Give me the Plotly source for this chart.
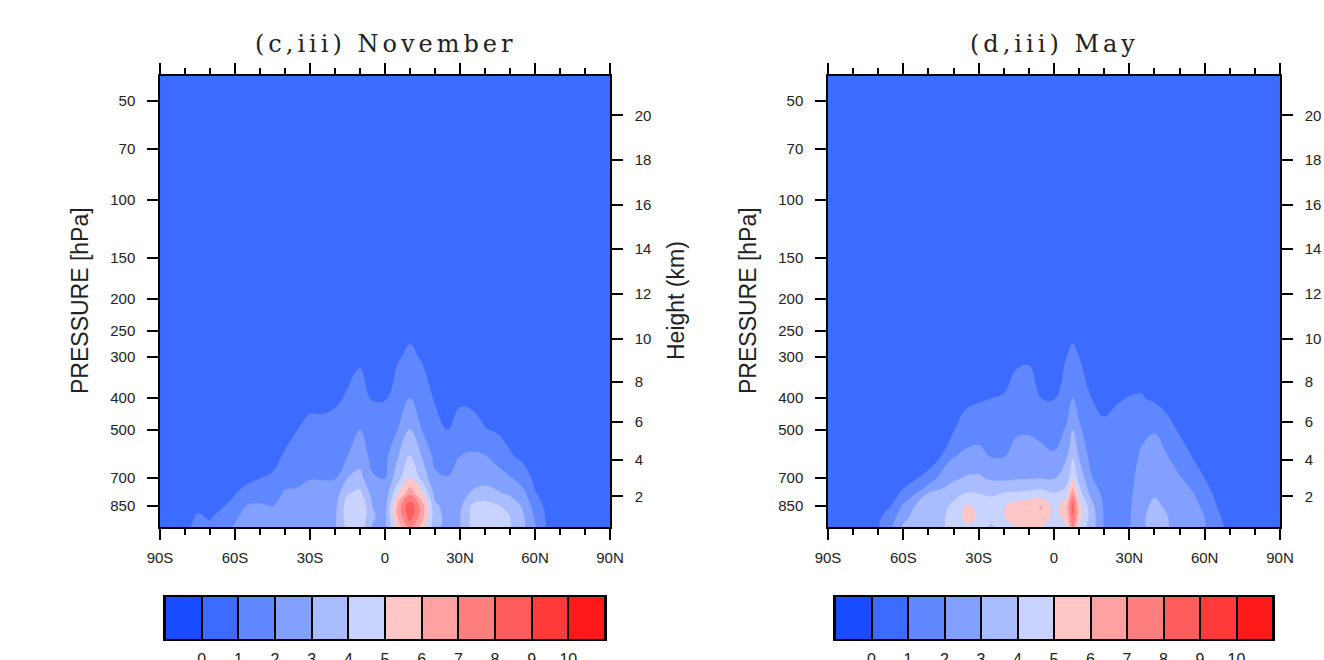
import math
import plotly.graph_objects as go

W, H = 1324, 660

# ---------------- data ----------------
# pressure levels (hPa) of the profiles below
plev = [1000, 925, 850, 775, 700, 600, 500, 400, 300, 250, 200, 100, 40]

lat_nov = [-90, -85, -80, -75, -70, -65, -60, -55, -50, -45, -40, -35, -30, -25, -20, -15, -10, -5,
           0, 5, 10, 15, 20, 25, 30, 35, 40, 45, 50, 55, 60, 65, 70, 75, 80, 85, 90]

# one vertical profile per latitude (values at plev, bottom to top)
nov_profiles = [
    [0.5, 0.5, 0.5, 0.5, 0.5, 0.5, 0.5, 0.5, 0.5, 0.5, 0.5, 0.5, 0.5],
    [0.5, 0.5, 0.5, 0.5, 0.5, 0.5, 0.5, 0.5, 0.5, 0.5, 0.5, 0.5, 0.5],
    [0.8, 0.7, 0.6, 0.5, 0.5, 0.5, 0.5, 0.5, 0.5, 0.5, 0.5, 0.5, 0.5],
    [1.3, 1.1, 0.85, 0.6, 0.5, 0.5, 0.5, 0.5, 0.5, 0.5, 0.5, 0.5, 0.5],
    [1.15, 0.95, 0.75, 0.6, 0.5, 0.5, 0.5, 0.5, 0.5, 0.5, 0.5, 0.5, 0.5],
    [1.6, 1.3, 0.95, 0.75, 0.6, 0.5, 0.5, 0.5, 0.5, 0.5, 0.5, 0.5, 0.5],
    [2.2, 1.85, 1.25, 0.95, 0.7, 0.55, 0.5, 0.5, 0.5, 0.5, 0.5, 0.5, 0.5],
    [2.6, 2.45, 2.05, 1.3, 0.8, 0.6, 0.5, 0.5, 0.5, 0.5, 0.5, 0.5, 0.5],
    [2.7, 2.5, 2.1, 1.6, 1.0, 0.7, 0.5, 0.5, 0.5, 0.5, 0.5, 0.5, 0.5],
    [2.6, 2.4, 2.0, 1.55, 1.1, 0.75, 0.55, 0.5, 0.5, 0.5, 0.5, 0.5, 0.5],
    [2.7, 2.5, 2.3, 2.1, 1.6, 1.1, 0.7, 0.5, 0.5, 0.5, 0.5, 0.5, 0.5],
    [2.8, 2.6, 2.45, 2.15, 1.75, 1.45, 1.0, 0.6, 0.5, 0.5, 0.5, 0.5, 0.5],
    [2.9, 2.75, 2.6, 2.35, 1.95, 1.6, 1.2, 0.8, 0.5, 0.5, 0.5, 0.5, 0.5],
    [2.9, 2.8, 2.6, 2.3, 1.95, 1.6, 1.2, 0.8, 0.5, 0.5, 0.5, 0.5, 0.5],
    [2.95, 2.85, 2.75, 2.4, 1.95, 1.65, 1.35, 0.85, 0.55, 0.5, 0.5, 0.5, 0.5],
    [4.2, 4.5, 4.5, 3.9, 3.0, 2.0, 1.6, 1.1, 0.7, 0.5, 0.5, 0.5, 0.5],
    [4.5, 4.8, 5.05, 4.2, 3.3, 2.55, 2.0, 1.4, 0.85, 0.6, 0.5, 0.5, 0.5],
    [2.9, 3.1, 3.0, 2.6, 2.1, 1.7, 1.35, 0.95, 0.6, 0.5, 0.5, 0.5, 0.5],
    [2.8, 2.7, 2.6, 2.3, 2.0, 1.7, 1.35, 0.95, 0.6, 0.5, 0.5, 0.5, 0.5],
    [5.2, 6.0, 6.2, 4.8, 3.6, 2.9, 2.0, 1.5, 0.9, 0.6, 0.5, 0.5, 0.5],
    [6.8, 8.4, 8.8, 6.6, 5.0, 4.15, 3.1, 2.0, 1.2, 0.8, 0.45, 0.5, 0.5],
    [5.4, 6.2, 6.4, 5.0, 3.7, 2.9, 1.95, 1.5, 0.9, 0.6, 0.5, 0.5, 0.5],
    [3.3, 3.4, 3.2, 2.7, 2.2, 1.7, 1.4, 0.9, 0.55, 0.5, 0.5, 0.5, 0.5],
    [2.6, 2.7, 2.6, 2.35, 2.05, 1.5, 1.0, 0.7, 0.5, 0.5, 0.5, 0.5, 0.5],
    [3.0, 2.95, 2.8, 2.6, 2.4, 2.0, 1.4, 0.85, 0.5, 0.5, 0.5, 0.5, 0.5],
    [4.3, 4.3, 4.2, 3.1, 2.6, 2.1, 1.5, 0.7, 0.5, 0.5, 0.5, 0.5, 0.5],
    [4.6, 5.05, 4.4, 3.3, 2.7, 2.05, 1.05, 0.6, 0.5, 0.5, 0.5, 0.5, 0.5],
    [4.3, 4.4, 4.1, 3.1, 2.5, 1.6, 0.9, 0.6, 0.5, 0.5, 0.5, 0.5, 0.5],
    [4.0, 4.05, 3.6, 2.8, 2.1, 1.1, 0.7, 0.5, 0.5, 0.5, 0.5, 0.5, 0.5],
    [3.3, 3.2, 2.9, 2.3, 1.5, 0.8, 0.6, 0.5, 0.5, 0.5, 0.5, 0.5, 0.5],
    [2.2, 1.9, 1.55, 1.05, 0.8, 0.6, 0.5, 0.5, 0.5, 0.5, 0.5, 0.5, 0.5],
    [0.9, 0.8, 0.7, 0.6, 0.5, 0.5, 0.5, 0.5, 0.5, 0.5, 0.5, 0.5, 0.5],
    [0.5, 0.5, 0.5, 0.5, 0.5, 0.5, 0.5, 0.5, 0.5, 0.5, 0.5, 0.5, 0.5],
    [0.5, 0.5, 0.5, 0.5, 0.5, 0.5, 0.5, 0.5, 0.5, 0.5, 0.5, 0.5, 0.5],
    [0.5, 0.5, 0.5, 0.5, 0.5, 0.5, 0.5, 0.5, 0.5, 0.5, 0.5, 0.5, 0.5],
    [0.5, 0.5, 0.5, 0.5, 0.5, 0.5, 0.5, 0.5, 0.5, 0.5, 0.5, 0.5, 0.5],
    [0.5, 0.5, 0.5, 0.5, 0.5, 0.5, 0.5, 0.5, 0.5, 0.5, 0.5, 0.5, 0.5],
]

lat_may = [-90, -85, -80, -75, -70, -65, -60, -55, -50, -45, -40, -35, -30, -25, -20, -15, -10, -5,
           0, 5, 7.5, 10, 15, 20, 25, 30, 35, 40, 45, 50, 55, 60, 65, 70, 75, 80, 85, 90]

may_profiles = [
    [0.5, 0.5, 0.5, 0.5, 0.5, 0.5, 0.5, 0.5, 0.5, 0.5, 0.5, 0.5, 0.5],
    [0.5, 0.5, 0.5, 0.5, 0.5, 0.5, 0.5, 0.5, 0.5, 0.5, 0.5, 0.5, 0.5],
    [0.5, 0.5, 0.5, 0.5, 0.5, 0.5, 0.5, 0.5, 0.5, 0.5, 0.5, 0.5, 0.5],
    [0.5, 0.5, 0.5, 0.5, 0.5, 0.5, 0.5, 0.5, 0.5, 0.5, 0.5, 0.5, 0.5],
    [0.95, 0.85, 0.7, 0.6, 0.5, 0.5, 0.5, 0.5, 0.5, 0.5, 0.5, 0.5, 0.5],
    [2.0, 1.5, 1.0, 0.75, 0.55, 0.5, 0.5, 0.5, 0.5, 0.5, 0.5, 0.5, 0.5],
    [3.2, 2.8, 2.2, 1.1, 0.75, 0.55, 0.5, 0.5, 0.5, 0.5, 0.5, 0.5, 0.5],
    [3.5, 3.3, 3.1, 1.9, 0.95, 0.7, 0.5, 0.5, 0.5, 0.5, 0.5, 0.5, 0.5],
    [3.7, 3.6, 3.4, 3.0, 1.25, 0.6, 0.5, 0.5, 0.5, 0.5, 0.5, 0.5, 0.5],
    [3.9, 3.75, 3.55, 3.2, 2.4, 1.0, 0.6, 0.5, 0.5, 0.5, 0.5, 0.5, 0.5],
    [4.2, 4.5, 4.3, 3.5, 2.85, 1.95, 0.95, 0.6, 0.5, 0.5, 0.5, 0.5, 0.5],
    [4.8, 5.2, 5.1, 4.0, 3.1, 2.2, 1.5, 0.75, 0.5, 0.5, 0.5, 0.5, 0.5],
    [4.5, 4.95, 4.85, 3.95, 3.15, 2.3, 1.6, 0.9, 0.55, 0.5, 0.5, 0.5, 0.5],
    [3.8, 4.2, 4.25, 3.9, 2.85, 1.95, 1.5, 1.0, 0.6, 0.5, 0.5, 0.5, 0.5],
    [4.6, 4.9, 4.9, 4.0, 2.8, 1.95, 1.55, 1.05, 0.6, 0.5, 0.5, 0.5, 0.5],
    [4.8, 5.5, 5.45, 4.1, 2.9, 2.4, 1.85, 1.35, 0.85, 0.55, 0.5, 0.5, 0.5],
    [4.8, 5.8, 5.75, 4.2, 2.95, 2.4, 1.9, 1.4, 0.9, 0.6, 0.5, 0.5, 0.5],
    [4.8, 5.9, 6.05, 4.3, 3.0, 2.25, 1.75, 1.0, 0.7, 0.5, 0.5, 0.5, 0.5],
    [3.8, 4.5, 4.6, 4.0, 2.95, 2.1, 1.6, 0.95, 0.65, 0.5, 0.5, 0.5, 0.5],
    [4.8, 5.4, 5.6, 4.5, 3.5, 2.9, 2.1, 1.6, 1.0, 0.65, 0.5, 0.5, 0.5],
    [6.8, 7.9, 8.3, 6.6, 4.8, 3.9, 3.0, 2.0, 1.15, 0.85, 0.5, 0.5, 0.5],
    [4.7, 5.3, 5.4, 4.4, 3.7, 2.9, 2.2, 1.6, 1.0, 0.65, 0.5, 0.5, 0.5],
    [3.4, 3.5, 3.3, 2.6, 2.05, 1.6, 1.3, 1.0, 0.6, 0.5, 0.5, 0.5, 0.5],
    [1.9, 1.9, 1.85, 1.7, 1.55, 1.35, 1.15, 0.8, 0.5, 0.5, 0.5, 0.5, 0.5],
    [1.7, 1.75, 1.7, 1.6, 1.5, 1.35, 1.2, 0.95, 0.55, 0.5, 0.5, 0.5, 0.5],
    [1.95, 1.9, 1.85, 1.75, 1.65, 1.5, 1.3, 1.02, 0.6, 0.5, 0.5, 0.5, 0.5],
    [2.8, 2.85, 2.8, 2.7, 2.5, 2.2, 1.7, 1.05, 0.6, 0.5, 0.5, 0.5, 0.5],
    [3.4, 3.35, 3.15, 2.9, 2.65, 2.3, 1.95, 0.85, 0.55, 0.5, 0.5, 0.5, 0.5],
    [3.1, 3.05, 2.9, 2.6, 2.35, 2.05, 1.3, 0.7, 0.5, 0.5, 0.5, 0.5, 0.5],
    [2.6, 2.55, 2.45, 2.3, 2.1, 1.4, 0.9, 0.6, 0.5, 0.5, 0.5, 0.5, 0.5],
    [2.45, 2.4, 2.3, 2.05, 1.6, 0.98, 0.65, 0.5, 0.5, 0.5, 0.5, 0.5, 0.5],
    [2.1, 2.0, 1.8, 1.35, 1.0, 0.7, 0.5, 0.5, 0.5, 0.5, 0.5, 0.5, 0.5],
    [1.3, 1.15, 0.98, 0.75, 0.6, 0.5, 0.5, 0.5, 0.5, 0.5, 0.5, 0.5, 0.5],
    [0.8, 0.7, 0.6, 0.55, 0.5, 0.5, 0.5, 0.5, 0.5, 0.5, 0.5, 0.5, 0.5],
    [0.5, 0.5, 0.5, 0.5, 0.5, 0.5, 0.5, 0.5, 0.5, 0.5, 0.5, 0.5, 0.5],
    [0.5, 0.5, 0.5, 0.5, 0.5, 0.5, 0.5, 0.5, 0.5, 0.5, 0.5, 0.5, 0.5],
    [0.5, 0.5, 0.5, 0.5, 0.5, 0.5, 0.5, 0.5, 0.5, 0.5, 0.5, 0.5, 0.5],
    [0.5, 0.5, 0.5, 0.5, 0.5, 0.5, 0.5, 0.5, 0.5, 0.5, 0.5, 0.5, 0.5],
]

levels = [0, 1, 2, 3, 4, 5, 6, 7, 8, 9, 10]
band_colors = ["#1a4cff", "#3e6bff", "#5f87ff", "#82a0ff", "#a8bcff", "#c8d4ff",
               "#ffc6c8", "#ffa1a3", "#ff7e7e", "#ff5c5c", "#ff3b3b", "#ff1a1a"]

p_ticks = [50, 70, 100, 150, 200, 250, 300, 400, 500, 700, 850]
x_ticks = [-90, -60, -30, 0, 30, 60, 90]
x_labels = ["90S", "60S", "30S", "0", "30N", "60N", "90N"]
h_press = [795, 616, 472, 356, 264, 193, 141, 103.5, 75.6, 55.3]
h_labels = ["2", "4", "6", "8", "10", "12", "14", "16", "18", "20"]
titles = ["(c,iii) November", "(d,iii) May"]

# ---------------- figure ----------------
nb = len(band_colors)
cscale = [[k / (nb - 1), c] for k, c in enumerate(band_colors)]

def transpose(profiles):
    return [list(r) for r in zip(*profiles)]

fig = go.Figure()

panels = [
    dict(lat=lat_nov, prof=nov_profiles, xa="x", ya="y", ha="y3", cx="x3", cy="y5"),
    dict(lat=lat_may, prof=may_profiles, xa="x2", ya="y2", ha="y4", cx="x4", cy="y6"),
]

for pnl in panels:
    fig.add_trace(go.Contour(
        x=pnl["lat"], y=plev, z=transpose(pnl["prof"]),
        colorscale=cscale, autocontour=False,
        contours=dict(start=levels[0], end=levels[-1], size=1, coloring="fill", showlines=False),
        line=dict(width=0, smoothing=1.2),
        showscale=False, hoverinfo="skip",
        xaxis=pnl["xa"], yaxis=pnl["ya"],
    ))
    fig.add_trace(go.Scatter(x=[None], y=[None], xaxis=pnl["xa"], yaxis=pnl["ha"],
                             showlegend=False, hoverinfo="skip"))
    # label bar
    fig.add_trace(go.Heatmap(
        x=[lv - 0.5 for lv in levels] + [levels[-1] + 0.5], y=[0],
        z=[list(range(nb))], colorscale=cscale, zmin=0, zmax=nb - 1,
        xgap=2, showscale=False, hoverinfo="skip",
        xaxis=pnl["cx"], yaxis=pnl["cy"],
    ))

tickfont = dict(family="Liberation Sans, Arial, sans-serif", size=15, color="#222")
yr = [math.log10(985), math.log10(42)]

# page pixel -> paper fraction
def px(x):
    return x / W

def py(y):
    return 1 - y / H

def xdom(a, b):
    return [px(a), px(b)]

def ydom(top, bot):
    return [py(bot), py(top)]

common_line = dict(showline=True, linecolor="black", linewidth=1.5, showgrid=False,
                   zeroline=False, automargin=False)

def main_x(dom, anchor):
    return dict(domain=dom, anchor=anchor, range=[-90, 90], tickmode="array",
                tickvals=x_ticks, ticktext=x_labels, ticks="outside", ticklen=11,
                tickwidth=1.5, tickcolor="black", mirror="ticks", tickfont=tickfont,
                ticklabelstandoff=5,
                minor=dict(dtick=10, tick0=0, ticks="outside", ticklen=6,
                           tickwidth=1.5, tickcolor="black"),
                **common_line)

def main_y(anchor):
    return dict(domain=ydom(76, 527), anchor=anchor, type="log", range=yr,
                tickmode="array", tickvals=p_ticks, ticktext=[str(v) for v in p_ticks],
                ticks="outside", ticklen=11, tickwidth=1.5, tickcolor="black",
                tickfont=tickfont, ticklabelstandoff=9, **common_line)

def height_y(over, anchor):
    return dict(overlaying=over, anchor=anchor, side="right", type="log", range=yr,
                tickmode="array", tickvals=h_press, ticktext=h_labels,
                ticks="outside", ticklen=11, tickwidth=1.5, tickcolor="black",
                tickfont=tickfont, ticklabelstandoff=9, **common_line)

def bar_x(dom, anchor):
    return dict(domain=dom, anchor=anchor, range=[-1, 11], tickmode="array",
                tickvals=levels, ticktext=[str(v) for v in levels], ticks="",
                tickfont=dict(family="Liberation Sans, Arial, sans-serif", size=16, color="#222"),
                ticklabelstandoff=5, mirror=True, **common_line)

def bar_y(anchor):
    return dict(domain=ydom(597, 639), anchor=anchor, range=[-0.5, 0.5],
                showticklabels=False, ticks="", mirror=True, **common_line)

fig.update_layout(
    width=W, height=H, autosize=False,
    margin=dict(l=0, r=0, t=0, b=0, autoexpand=False),
    paper_bgcolor="white", plot_bgcolor="black",
    showlegend=False,
    xaxis=main_x(xdom(160, 610), "y"),
    yaxis=main_y("x"),
    yaxis3=height_y("y", "x"),
    xaxis2=main_x(xdom(828, 1280), "y2"),
    yaxis2=main_y("x2"),
    yaxis4=height_y("y2", "x2"),
    xaxis3=bar_x(xdom(165, 605), "y5"),
    yaxis5=bar_y("x3"),
    xaxis4=bar_x(xdom(835, 1273), "y6"),
    yaxis6=bar_y("x4"),
)

ann = []
for t, (a, b) in zip(titles, [(160, 610), (828, 1280)]):
    ann.append(dict(text='<span style="letter-spacing:4px">' + t + '</span>',
                    x=px((a + b) / 2), y=py(44), xref="paper", yref="paper",
                    showarrow=False, xanchor="center", yanchor="middle",
                    font=dict(family="DejaVu Serif, serif", size=24, color="#222")))
for xc in [80, 748]:
    ann.append(dict(text="PRESSURE [hPa]", x=px(xc), y=py(301), xref="paper", yref="paper",
                    showarrow=False, xanchor="center", yanchor="middle", textangle=-90,
                    font=dict(family="Liberation Sans, Arial, sans-serif", size=23, color="#222")))
ann.append(dict(text="Height (km)", x=px(676), y=py(301), xref="paper", yref="paper",
                showarrow=False, xanchor="center", yanchor="middle", textangle=-90,
                font=dict(family="Liberation Sans, Arial, sans-serif", size=23, color="#222")))
fig.update_layout(annotations=ann)

fig.write_html(
    "out.html",
    config={"displayModeBar": False},
    post_script="document.body.style.margin='0';document.body.style.overflow='hidden';",
)
